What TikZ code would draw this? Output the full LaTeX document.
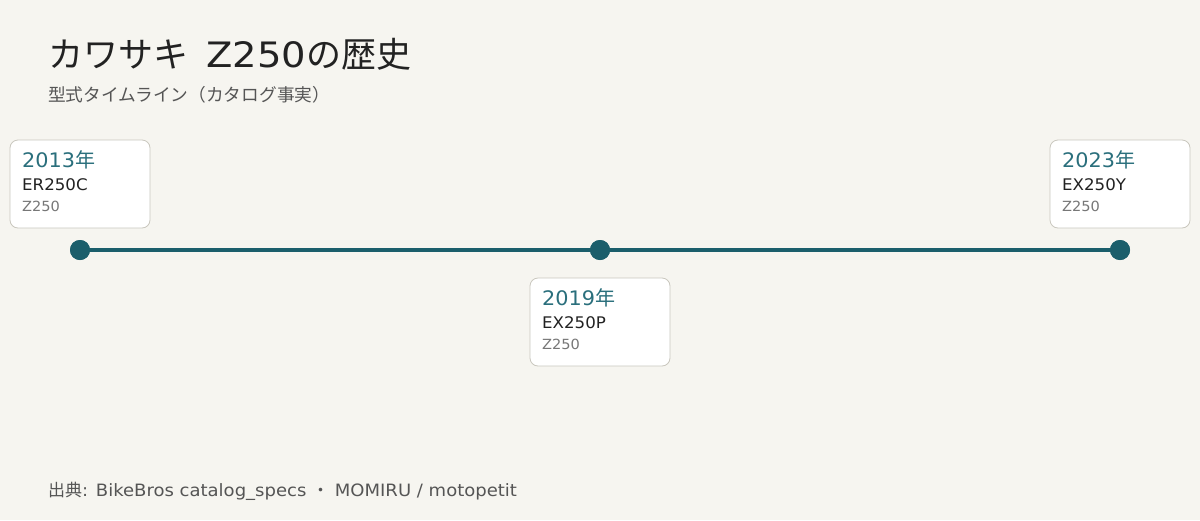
\documentclass[tikz,border=0pt]{standalone}
\usepackage{fontspec}
\setmainfont{DejaVu Sans}[FakeStretch=1.04]
\newfontfamily\wide{DejaVu Sans}[FakeStretch=1.1]
\newfontfamily\foot{DejaVu Sans}[FakeStretch=1.06]
\newfontfamily\jp{Noto Sans CJK JP}
\definecolor{bg}{HTML}{F6F5F0}
\definecolor{teal}{HTML}{1B5E6B}
\definecolor{yeart}{HTML}{2A6F7C}
\definecolor{boxline}{HTML}{C9C7BE}
\definecolor{titlec}{HTML}{222222}
\definecolor{subc}{HTML}{555555}
\definecolor{lightc}{HTML}{777777}
\begin{document}
\begin{tikzpicture}[x=1pt,y=-1pt,
  card/.style={draw=boxline,line width=0.8pt,fill=white,rounded corners=8pt},
  dot/.style={circle,fill=teal,minimum size=20pt,inner sep=0pt},
  yr/.style={anchor=base west,inner sep=0pt,text=yeart,font=\fontsize{20}{24}\selectfont},
  md/.style={anchor=base west,inner sep=0pt,text=titlec,font=\fontsize{16}{19}\selectfont},
  nm/.style={anchor=base west,inner sep=0pt,text=lightc,font=\fontsize{14}{17}\selectfont}]
\fill[bg] (0,0) rectangle (1200,520);
\useasboundingbox (0,0) rectangle (1200,520);
\node[anchor=base west,inner sep=0pt,text=titlec,font=\fontsize{35}{40}\wide] (title) at (48,67) {{\jp カワサキ}\hspace{18pt}Z250{\jp の歴史}};
\node[anchor=base west,inner sep=0pt,text=subc,font=\fontsize{17.7}{20}\jp] (sub) at (48,101) {型式タイムライン（カタログ事実）};
% timeline
\node[dot] (d1) at (80,250) {};
\node[dot] (d2) at (600,250) {};
\node[dot] (d3) at (1120,250) {};
\draw[teal,line width=4pt] (d1.center) -- (d2.center) -- (d3.center);
\node[dot] at (d1) {};
\node[dot] at (d2) {};
\node[dot] at (d3) {};
% cards
\draw[card] (10,140) rectangle (150,228);
\node[yr] (y1) at (22,167) {2013{\jp 年}};
\node[md] (m1) at (22,190) {ER250C};
\node[nm] (n1) at (22,211) {Z250};
\draw[card] (530,278) rectangle (670,366);
\node[yr] (y2) at (542,305) {2019{\jp 年}};
\node[md] (m2) at (542,328) {EX250P};
\node[nm] (n2) at (542,349) {Z250};
\draw[card] (1050,140) rectangle (1190,228);
\node[yr] (y3) at (1062,167) {2023{\jp 年}};
\node[md] (m3) at (1062,190) {EX250Y};
\node[nm] (n3) at (1062,211) {Z250};
\node[anchor=base west,inner sep=0pt,text=subc,font=\fontsize{17}{20}\foot] (src) at (48,496) {{\jp 出典}: BikeBros catalog\_specs {\jp ・} MOMIRU / motopetit};
\end{tikzpicture}
\end{document}
